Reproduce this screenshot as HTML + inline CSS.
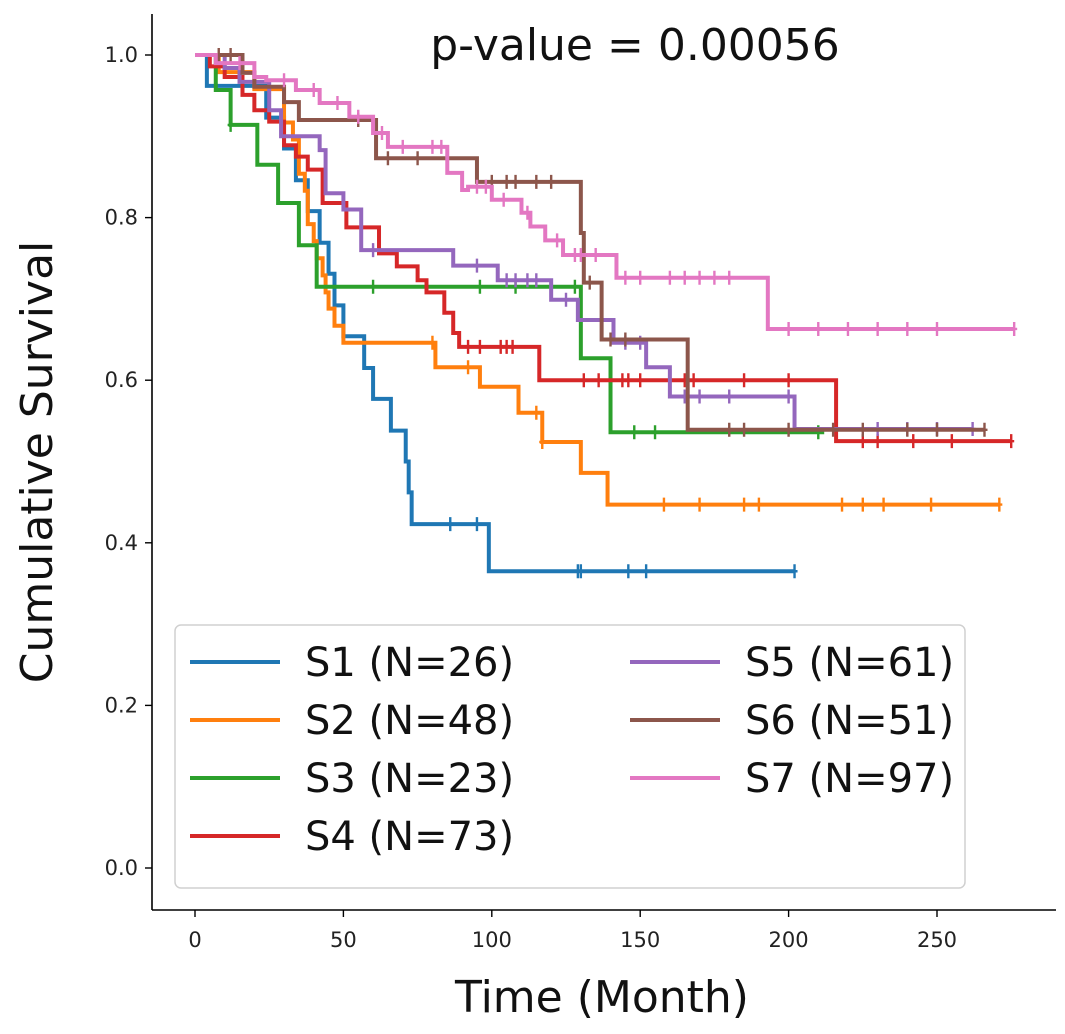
<!DOCTYPE html>
<html><head><meta charset="utf-8">
<style>
html,body{margin:0;padding:0;background:#fff;}
svg{display:block;font-family:"DejaVu Sans","Liberation Sans",sans-serif;}
</style></head>
<body>
<svg id="chart" width="1065" height="1034" viewBox="0 0 1065 1034">
  <g id="plot"></g>
  <g id="axes"></g>
  <text x="635" y="60" font-size="44" text-anchor="middle" fill="#111">p-value = 0.00056</text>
  <text x="602" y="1012" font-size="44" text-anchor="middle" fill="#111">Time (Month)</text>
  <text transform="translate(52,462) rotate(-90)" font-size="44" text-anchor="middle" fill="#111">Cumulative Survival</text>
  <g id="legend"></g>
</svg>
<script>
const seriesNames = ["S1 (N=26)","S2 (N=48)","S3 (N=23)","S4 (N=73)","S5 (N=61)","S6 (N=51)","S7 (N=97)"];
const seriesColors = ["#1f77b4","#ff7f0e","#2ca02c","#d62728","#9467bd","#8c564b","#e377c2"];
const xTicks = [0,50,100,150,200,250];
const yTicks = [0.0,0.2,0.4,0.6,0.8,1.0];
const s1Times = [0,4,24,30,34,38,42,45,47,50,55,57,60,66,71,72,73,99];
const s1Surv = [1,0.962,0.923,0.885,0.846,0.808,0.769,0.731,0.692,0.654,0.654,0.615,0.577,0.538,0.5,0.462,0.423,0.365];
const s1End = 202;
const s1Cens = [86,95,129,130,146,152,202];
const s2Times = [0,8,20,30,33,35,37,38,40,41,43,44,45,47,50,81,96,109,117,130,139];
const s2Surv = [1,0.979,0.958,0.917,0.896,0.854,0.833,0.792,0.771,0.75,0.729,0.708,0.688,0.667,0.646,0.616,0.592,0.56,0.524,0.486,0.447];
const s2End = 271;
const s2Cens = [80,92,115,117,158,170,185,190,218,225,232,248,271];
const s3Times = [0,7,12,21,28,35,41,130,140];
const s3Surv = [1,0.957,0.914,0.865,0.818,0.766,0.715,0.627,0.536];
const s3End = 212;
const s3Cens = [12,60,96,108,128,148,155,210];
const s4Times = [0,5,10,16,20,25,30,34,38,43,51,62,68,75,78,84,87,89,116,216];
const s4Surv = [1,0.986,0.973,0.951,0.932,0.918,0.889,0.875,0.859,0.818,0.788,0.756,0.74,0.723,0.708,0.683,0.658,0.641,0.6,0.525];
const s4End = 275;
const s4Cens = [92,96,103,105,107,131,136,144,146,150,165,168,185,200,225,230,242,255,275];
const s5Times = [0,10,15,25,29,42,44,50,56,87,102,120,129,141,152,160,202];
const s5Surv = [1,0.984,0.967,0.932,0.9,0.883,0.83,0.81,0.76,0.741,0.723,0.699,0.674,0.646,0.616,0.58,0.54];
const s5End = 262;
const s5Cens = [60,95,105,108,112,115,125,145,150,165,170,180,200,230,240,250,262];
const s6Times = [0,16,20,30,35,61,95,130,131,137,166];
const s6Surv = [1,0.978,0.961,0.942,0.92,0.873,0.844,0.781,0.72,0.65,0.539];
const s6End = 266;
const s6Cens = [8,12,55,65,75,85,100,105,108,115,120,133,140,145,180,185,200,215,225,240,250,266];
const s7Times = [0,7,20,24,34,42,52,60,65,85,90,92,100,110,113,118,124,142,193];
const s7Surv = [1,0.99,0.973,0.969,0.957,0.941,0.924,0.904,0.887,0.855,0.834,0.838,0.822,0.806,0.789,0.772,0.754,0.726,0.663];
const s7End = 276;
const s7Cens = [15,30,40,48,55,63,70,80,83,95,98,104,112,122,128,130,135,145,150,160,165,170,175,180,200,210,220,230,240,250,276];

const allTimes=[s1Times,s2Times,s3Times,s4Times,s5Times,s6Times,s7Times];
const allSurv=[s1Surv,s2Surv,s3Surv,s4Surv,s5Surv,s6Surv,s7Surv];
const allEnd=[s1End,s2End,s3End,s4End,s5End,s6End,s7End];
const allCens=[s1Cens,s2Cens,s3Cens,s4Cens,s5Cens,s6Cens,s7Cens];

const NS="http://www.w3.org/2000/svg";
function xS(t){return 195+t*(937-195)/250;}
function yS(v){return 868-v*813;}
function mk(tag,attrs,parent){const e=document.createElementNS(NS,tag);for(const k in attrs)e.setAttribute(k,attrs[k]);parent.appendChild(e);return e;}
function survAt(times,surv,t){let v=surv[0];for(let i=0;i<times.length;i++){if(times[i]<=t)v=surv[i];}return v;}

const plot=document.getElementById('plot');
for(let s=0;s<7;s++){
  const T=allTimes[s],S=allSurv[s];
  let d="M"+xS(0)+","+yS(S[0]);
  for(let i=1;i<T.length;i++){d+=" H"+xS(T[i])+" V"+yS(S[i]);}
  d+=" H"+xS(allEnd[s]);
  const p=mk('path',{d:d,fill:'none',stroke:seriesColors[s],'stroke-width':4,'stroke-linejoin':'miter'},plot);
  
  
  allCens[s].forEach(c=>{
    const v=survAt(T,S,c);
    const m=mk('path',{d:"M"+xS(c)+","+(yS(v)-7)+" V"+(yS(v)+7)+" M"+(xS(c)-3)+","+yS(v)+" H"+(xS(c)+3),stroke:seriesColors[s],'stroke-width':2.4,fill:'none'},plot);
    
    
  });
}

const axes=document.getElementById('axes');
let sp=mk('line',{x1:152,y1:14,x2:152,y2:910,stroke:'#000','stroke-width':1.6},axes);

sp=mk('line',{x1:152,y1:910,x2:1056,y2:910,stroke:'#000','stroke-width':1.6},axes);

xTicks.forEach(t=>{
  const l=mk('line',{x1:xS(t),y1:910,x2:xS(t),y2:917,stroke:'#000','stroke-width':1.4},axes);
  
  const tx=mk('text',{x:xS(t),y:947,'font-size':21,'text-anchor':'middle',fill:'#222'},axes);
  tx.textContent=String(t);
  
});
yTicks.forEach(v=>{
  const l=mk('line',{x1:145,y1:yS(v),x2:152,y2:yS(v),stroke:'#000','stroke-width':1.4},axes);
  
  const tx=mk('text',{x:138,y:yS(v)+7,'font-size':21,'text-anchor':'end',fill:'#222'},axes);
  tx.textContent=v.toFixed(1);
  
});

const lg=document.getElementById('legend');
const box=mk('rect',{x:175,y:625,width:790,height:263,rx:6,fill:'#fff','fill-opacity':0.85,stroke:'#d0d0d0','stroke-width':1.5},lg);

seriesNames.forEach((n,i)=>{
  const col=i<4?0:1,row=i<4?i:i-4;
  const x0=col?630:190,y0=662+row*58;
  const g=mk('g',{},lg);
  
  
  mk('line',{x1:x0,y1:y0,x2:x0+90,y2:y0,stroke:seriesColors[i],'stroke-width':4},g);
  const t=mk('text',{x:x0+115,y:y0+14,'font-size':40,fill:'#111'},g);
  t.textContent=n;
});
</script>
</body></html>
